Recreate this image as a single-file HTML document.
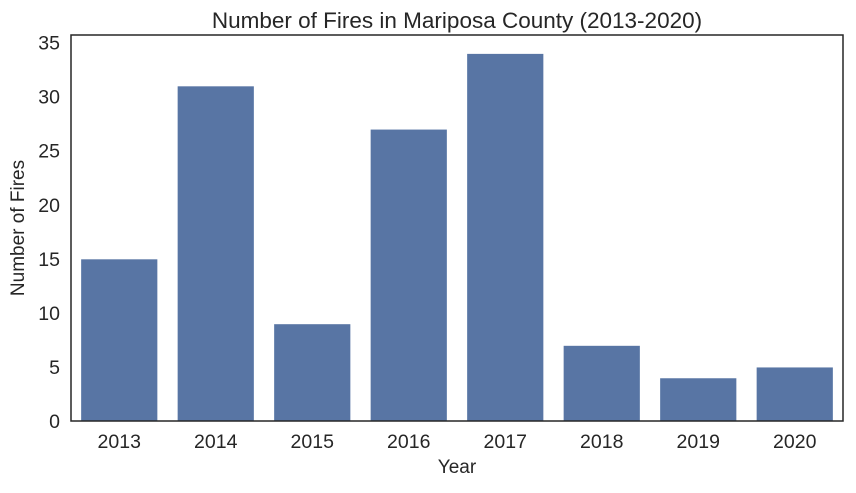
<!DOCTYPE html>
<html><head><meta charset="utf-8"><style>body{margin:0;background:#fff}svg{font-family:"Liberation Sans",sans-serif}</style></head>
<body>
<svg id="c" width="856" height="488"></svg>
<script>
const categories=["2013","2014","2015","2016","2017","2018","2019","2020"];
const values=[15,31,9,27,34,7,4,5];
const yTicks=[0,5,10,15,20,25,30,35];
const NS="http://www.w3.org/2000/svg";
const svg=document.getElementById('c');
const L=71,R=843,T=35,B=421,YMAX=35.7;
const y=v=>B-(v/YMAX)*(B-T);
const step=(R-L)/categories.length;
const x=i=>L+step*i+step/2;
function el(t,a,txt){const e=document.createElementNS(NS,t);for(const k in a)e.setAttribute(k,a[k]);if(txt!==undefined)e.textContent=txt;svg.appendChild(e);return e;}
values.forEach((v,i)=>{
const r=el('rect',{x:x(i)-step*0.4,y:y(v),width:step*0.8,height:B-y(v),fill:'#5875a4',stroke:'#fff','stroke-width':1});


const t=el('text',{x:x(i),y:B+27,'text-anchor':'middle','font-size':19.5,fill:'#262626'},categories[i]);


});
yTicks.forEach(v=>{
const t=el('text',{x:L-11,y:y(v)+7,'text-anchor':'end','font-size':19.5,fill:'#262626'},v);


});
const f=el('rect',{x:L,y:T,width:R-L,height:B-T,fill:'none',stroke:'#262626','stroke-width':1.5});


const tt=el('text',{x:(L+R)/2,y:28,'text-anchor':'middle','font-size':22.5,fill:'#262626'},'Number of Fires in Mariposa County (2013-2020)');


const xt=el('text',{x:(L+R)/2,y:473,'text-anchor':'middle','font-size':19,fill:'#262626'},'Year');


const yt=el('text',{x:0,y:0,'text-anchor':'middle','font-size':19,fill:'#262626',transform:'translate(24,'+((T+B)/2)+') rotate(-90)'},'Number of Fires');


</script>
</body></html>
